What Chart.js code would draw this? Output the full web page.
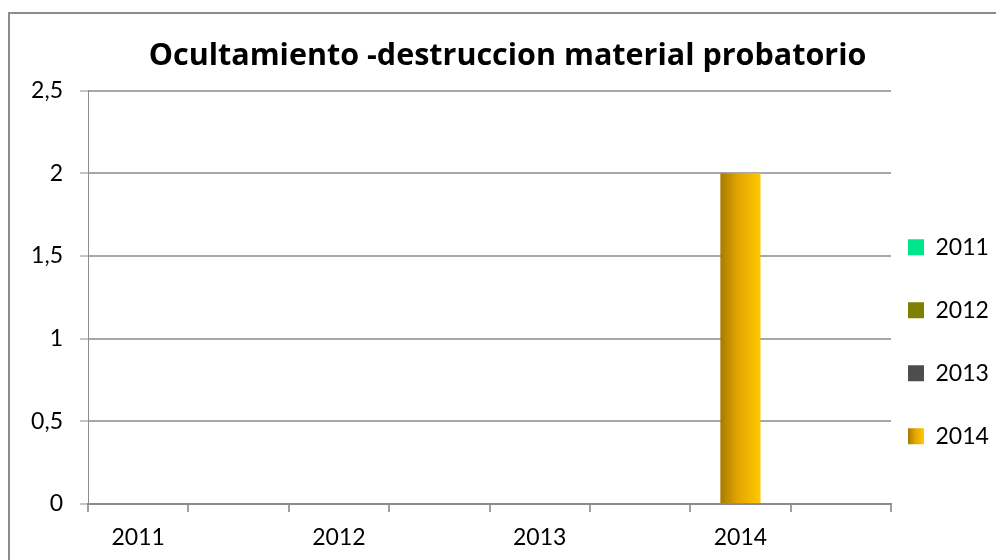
<!DOCTYPE html>
<html>
<head>
<meta charset="utf-8">
<title>Ocultamiento -destruccion material probatorio</title>
<script src="https://cdn.jsdelivr.net/npm/chart.js@4.4.1/dist/chart.umd.min.js"></script>
<style>
  html, body { margin: 0; padding: 0; background: #fff; }
  #wrap { position: relative; width: 996px; height: 560px; }
</style>
</head>
<body>
<div id="wrap"><canvas id="chart"></canvas></div>
<script>
// category slots on the x axis (only every other one carries a year label)
const categories = ['2011', '', '2012', '', '2013', '', '2014', ''];
const seriesNames = ['2011', '2012', '2013', '2014'];
const values2011 = [0, 0, 0, 0, 0, 0, 0, 0];
const values2012 = [0, 0, 0, 0, 0, 0, 0, 0];
const values2013 = [0, 0, 0, 0, 0, 0, 0, 0];
const values2014 = [0, 0, 0, 0, 0, 0, 2, 0];
const yTicks = [0, 0.5, 1, 1.5, 2, 2.5];

const BAR_PCT = 0.4;
const LEGEND_SHIFT = 56;

Chart.defaults.font.family = 'Lato, "Noto Sans", sans-serif';
Chart.defaults.color = '#000';

function goldGradient(ctx, x0, x1) {
    const g = ctx.createLinearGradient(x0, 0, x1, 0);
    g.addColorStop(0, '#a87a00');
    g.addColorStop(0.45, '#e3a600');
    g.addColorStop(1, '#ffc800');
    return g;
}

// left-to-right shading across each gold bar
function barFill(c) {
    const x = c.chart.scales.x;
    if (c.dataIndex === undefined || !x || !x.width) return '#e8a800';
    const cx = x.getPixelForValue(c.dataIndex);
    const half = x.width / categories.length * BAR_PCT / 2;
    return goldGradient(c.chart.ctx, cx - half, cx + half);
}

const chartFrame = {
    id: 'chartFrame',
    beforeDraw(chart) {
        const ctx = chart.ctx;
        ctx.save();
        ctx.strokeStyle = '#8c8c8c';
        ctx.lineWidth = 2;
        ctx.strokeRect(9, 13, chart.width + 40, chart.height + 40);
        ctx.restore();
        const lg = chart.legend;
        const item = lg && lg.legendItems && lg.legendItems[3];
        if (item) {
            const x0 = lg.left + lg.options.labels.padding;
            item.fillStyle = goldGradient(ctx, x0, x0 + lg.options.labels.boxWidth);
        }
    }
};

// push the legend down beside the lower half of the plot
const legendNudge = {
    id: 'legendNudge',
    afterLayout(chart) {
        chart.legend.top += LEGEND_SHIFT;
        chart.legend.bottom += LEGEND_SHIFT;
    }
};

const ctx = document.getElementById('chart').getContext('2d');
new Chart(ctx, {
    type: 'bar',
    data: {
        labels: categories,
        datasets: [
            { label: seriesNames[0], data: values2011, backgroundColor: '#00e68a' },
            { label: seriesNames[1], data: values2012, backgroundColor: '#808000' },
            { label: seriesNames[2], data: values2013, backgroundColor: '#4d4d4d' },
            { label: seriesNames[3], data: values2014, backgroundColor: barFill }
        ]
    },
    options: {
        responsive: true,
        maintainAspectRatio: false,
        animation: false,
        events: [],
        layout: { padding: { top: 12, left: 19, right: 0, bottom: 0 } },
        datasets: { bar: { categoryPercentage: 1, barPercentage: BAR_PCT, borderWidth: 0 } },
        scales: {
            x: {
                stacked: true,
                grid: { drawOnChartArea: false, tickLength: 8, color: '#a0a0a0', lineWidth: 2 },
                border: { color: '#8c8c8c', width: 2 },
                ticks: { autoSkip: false, maxRotation: 0, padding: 12, font: { size: 23 } },
                afterFit: s => { s.height = 56; }
            },
            y: {
                stacked: true,
                min: 0,
                max: 2.5,
                afterBuildTicks: s => { s.ticks = yTicks.map(v => ({ value: v })); },
                grid: { color: '#a8a8a8', lineWidth: 2, tickLength: 8, tickColor: '#8c8c8c', tickWidth: 1 },
                border: { color: '#8c8c8c', width: 1 },
                ticks: { padding: 17, font: { size: 23 }, callback: v => String(v).replace('.', ',') },
                afterFit: s => { s.width = 69; }
            }
        },
        plugins: {
            title: {
                display: true,
                text: 'Ocultamiento -destruccion material probatorio',
                color: '#000',
                font: { family: '"Open Sans", Lato, sans-serif', size: 30.5, weight: 'bold' },
                padding: { top: 26, bottom: 16 }
            },
            legend: {
                position: 'right',
                fullSize: false,
                maxWidth: 105,
                labels: {
                    boxWidth: 16,
                    boxHeight: 16,
                    padding: 17,
                    font: { size: 23, lineHeight: 2 },
                    generateLabels: chart => Chart.defaults.plugins.legend.labels.generateLabels(chart)
                        .map(item => ({ ...item, text: [item.text] }))
                }
            },
            tooltip: { enabled: false }
        }
    },
    plugins: [chartFrame, legendNudge]
});
</script>
</body>
</html>
